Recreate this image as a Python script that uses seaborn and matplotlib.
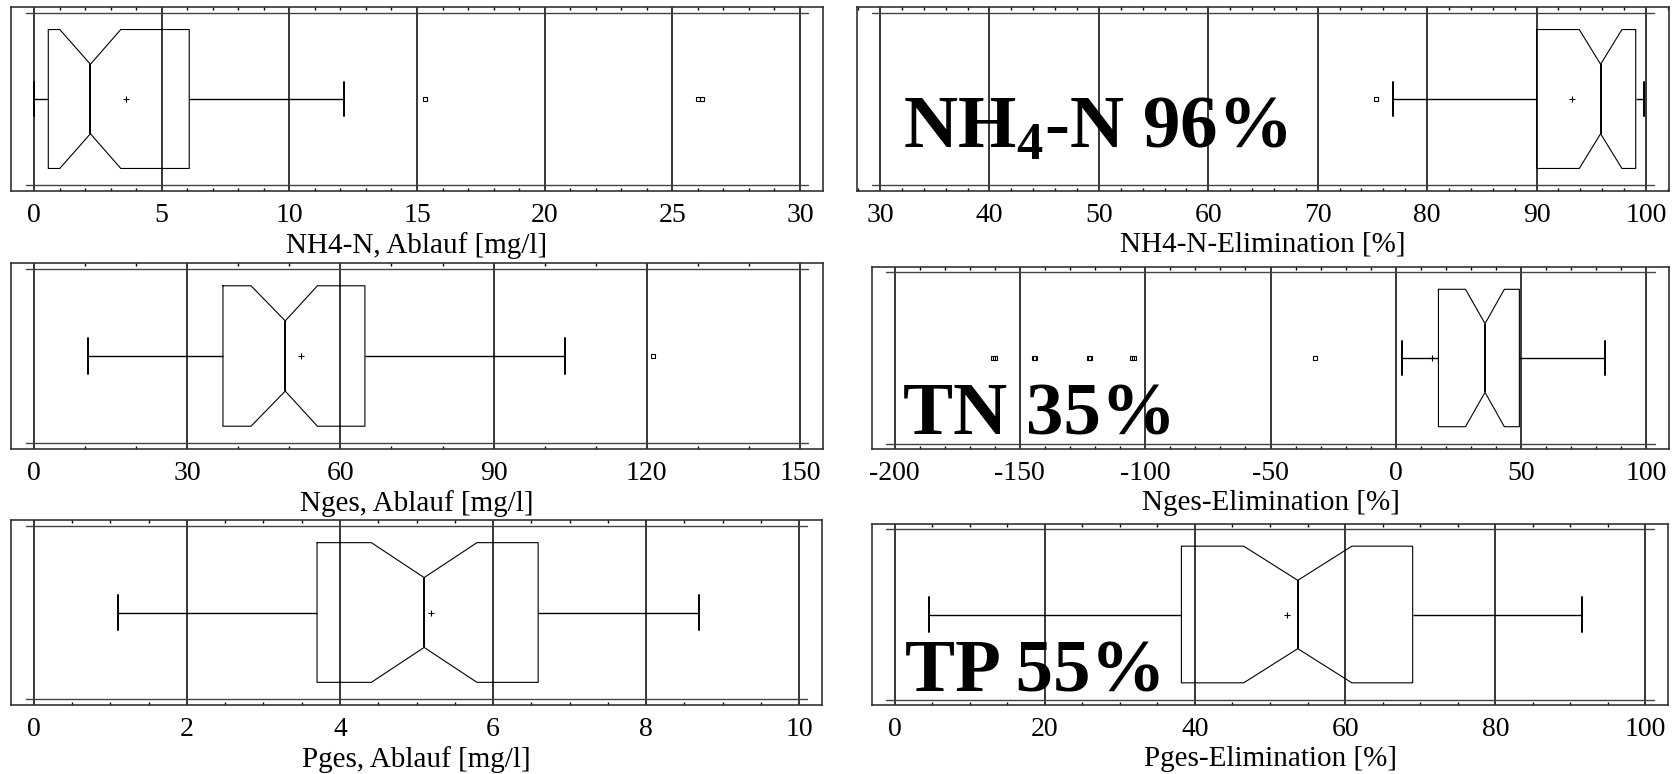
import matplotlib.pyplot as plt
import matplotlib.ticker as mticker
import seaborn as sns

SET_DPI = 100
FIGSIZE = (16.77, 7.74)
W, H = 1677, 774

labels = ['NH4-N, Ablauf [mg/l]', 'NH4-N-Elimination [%]',
          'Nges, Ablauf [mg/l]', 'Nges-Elimination [%]',
          'Pges, Ablauf [mg/l]', 'Pges-Elimination [%]']

# box statistics, one entry per panel
whislo = [0.0, 76.9, 10.5, 2.4, 1.10, 4.55]
q1 = [0.56, 90.0, 37.0, 17.0, 3.70, 38.2]
med = [2.21, 95.85, 49.2, 35.6, 5.10, 53.7]
q3 = [6.08, 99.06, 64.8, 49.3, 6.59, 69.0]
whishi = [12.16, 99.85, 104.0, 83.5, 8.69, 91.5]
means = [3.61, 93.24, 52.3, 14.5, 5.19, 52.2]
notch_lo = [1.01, 93.9, 42.5, 27.8, 4.41, 46.5]
notch_hi = [3.40, 97.8, 55.5, 43.3, 5.79, 60.9]
fliers = [[15.3, 26.0, 26.15], [75.3], [121.3],
          [-160.6, -160.0, -144.5, -143.9, -122.6, -122.0, -105.2, -104.6, -32.1],
          [], []]

# removal rates written into the right hand panels
rate_text = {1: r'NH$_\mathrm{4}$-N 96%', 3: 'TN 35%', 5: 'TP 55%'}

# axis setup per panel: limits, major step, minor step
xlims = [(-0.9, 30.9), (27.9, 102.1), (-4.5, 154.5),
         (-209, 109), (-0.3, 10.3), (-3, 103)]
major_step = [5, 10, 30, 50, 2, 20]
minor_step = [1, 2, 10, 10, 0.5, 5]

# panel frames in pixels (left, right, top, bottom)
frames = [(11, 823, 7, 191), (857, 1669, 7, 191),
          (11, 823, 263, 449), (872, 1669, 267, 449),
          (11, 822, 520, 705), (872, 1668, 524, 705)]
text_pos = {1: (0.057, 0.234), 3: (0.039, 0.077), 5: (0.041, 0.072)}

sns.set_style('white')
plt.rcParams['font.family'] = ['Liberation Serif', 'DejaVu Serif']
plt.rcParams['mathtext.fontset'] = 'custom'
plt.rcParams['mathtext.rm'] = 'Liberation Serif:bold'
plt.rcParams['text.color'] = 'black'
plt.rcParams['axes.labelcolor'] = 'black'
plt.rcParams['xtick.color'] = 'black'

fig = plt.figure(figsize=FIGSIZE, dpi=SET_DPI)

for i in range(6):
    l, r, t, b = frames[i]
    ax = fig.add_axes([l / W, 1 - b / H, (r - l) / W, (b - t) / H])

    stats = dict(whislo=whislo[i], q1=q1[i], med=med[i], q3=q3[i],
                 whishi=whishi[i], mean=means[i], cilo=notch_lo[i],
                 cihi=notch_hi[i], fliers=fliers[i])
    vals = [whislo[i], q1[i], med[i], q3[i], whishi[i]] + fliers[i]

    sns.boxplot(x=vals, orient='h', ax=ax, width=0.755, fill=False,
                color='black', linecolor='black', notch=True, showmeans=True,
                bxpstats=[stats], capwidths=0.19, fliersize=3.5,
                boxprops=dict(linewidth=0.8),
                medianprops=dict(linewidth=1.4),
                whiskerprops=dict(linewidth=1.0),
                capprops=dict(linewidth=1.4),
                flierprops=dict(marker='s', markerfacecolor='none',
                                markeredgewidth=0.8),
                meanprops=dict(marker='+', markeredgecolor='black',
                               markersize=5, markeredgewidth=0.8))

    ax.set_xlim(*xlims[i])
    ax.set_ylim(0.5, -0.5)
    ax.xaxis.set_major_locator(mticker.MultipleLocator(major_step[i]))
    ax.xaxis.set_minor_locator(mticker.MultipleLocator(minor_step[i]))
    ax.set_yticks([])
    ax.set_ylabel('')
    ax.grid(axis='x', which='major', color='black', linewidth=1.1)
    ax.tick_params(axis='x', which='major', length=0, pad=9, labelsize=20,
                   labelcolor='black')
    ax.tick_params(axis='x', which='minor', direction='in', length=2.5,
                   width=1, top=True, bottom=True, color='black')
    ax.xaxis.set_major_formatter(mticker.FormatStrFormatter('%g'))
    ax.set_xlabel(labels[i], fontsize=21, labelpad=2.5, color='black')
    for sp in ax.spines.values():
        sp.set_color('#333333')
        sp.set_linewidth(1.2)
        sp.set_visible(True)

    # inner double line along top and bottom
    for yy in (0.03, 0.97):
        ax.plot([0.018, 0.982], [yy, yy], transform=ax.transAxes,
                color='#444444', linewidth=1.0)

    if i in rate_text:
        tx, ty = text_pos[i]
        ax.text(tx, ty, rate_text[i], transform=ax.transAxes, fontsize=54,
                fontweight='bold', color='black', ha='left', va='baseline',
                zorder=5)

plt.savefig('out.png', dpi=SET_DPI)
plt.close()
